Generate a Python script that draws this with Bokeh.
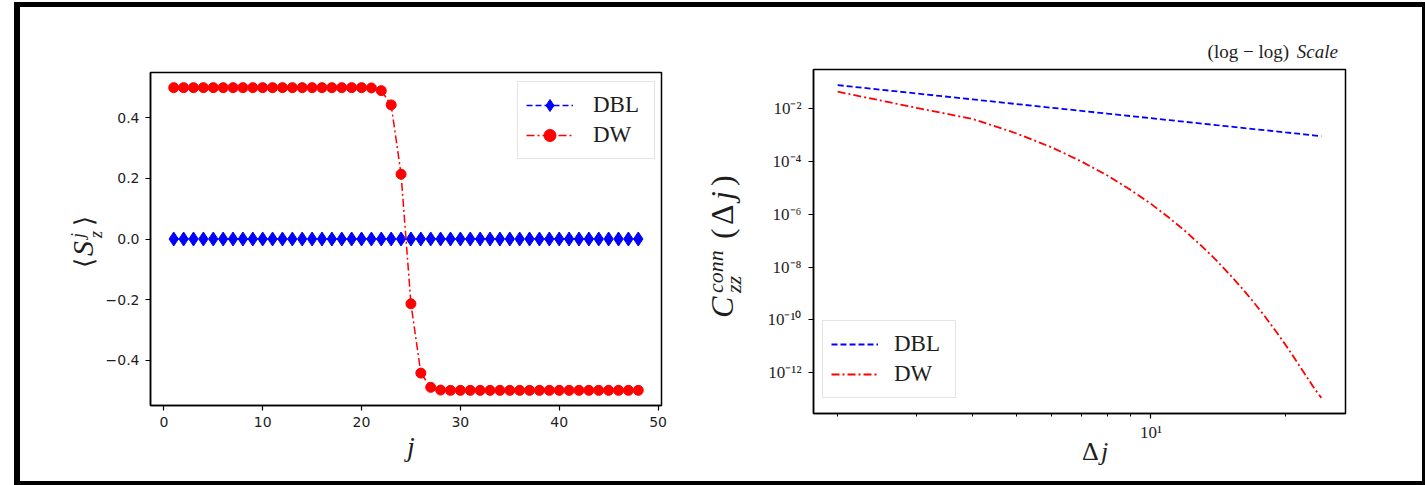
import numpy as np
from bokeh.plotting import figure
from bokeh.models import (Range1d, FixedTicker, CustomJSTickFormatter, Div,
                          Legend, LegendItem)
from bokeh.embed import file_html
from bokeh.resources import INLINE

# ---------------- data: left panel  <S_z^j> vs j ----------------
sites_j = [1, 2, 3, 4, 5, 6, 7, 8, 9, 10, 11, 12, 13, 14, 15, 16,
           17, 18, 19, 20, 21, 22, 23, 24, 25, 26, 27, 28, 29, 30, 31, 32,
           33, 34, 35, 36, 37, 38, 39, 40, 41, 42, 43, 44, 45, 46, 47, 48]
sz_dbl = [0.0, 0.0, 0.0, 0.0, 0.0, 0.0, 0.0, 0.0, 0.0, 0.0, 0.0, 0.0,
          0.0, 0.0, 0.0, 0.0, 0.0, 0.0, 0.0, 0.0, 0.0, 0.0, 0.0, 0.0,
          0.0, 0.0, 0.0, 0.0, 0.0, 0.0, 0.0, 0.0, 0.0, 0.0, 0.0, 0.0,
          0.0, 0.0, 0.0, 0.0, 0.0, 0.0, 0.0, 0.0, 0.0, 0.0, 0.0, 0.0]
sz_dw = [0.5, 0.5, 0.5, 0.5, 0.5, 0.5, 0.5, 0.5, 0.5, 0.5, 0.5, 0.5,
         0.5, 0.5, 0.5, 0.5, 0.5, 0.5, 0.5, 0.5, 0.499, 0.49, 0.443, 0.214,
         -0.214, -0.443, -0.49, -0.499, -0.5, -0.5, -0.5, -0.5, -0.5, -0.5, -0.5, -0.5,
         -0.5, -0.5, -0.5, -0.5, -0.5, -0.5, -0.5, -0.5, -0.5, -0.5, -0.5, -0.5]
left_xticks = [0, 10, 20, 30, 40, 50]
left_yticks = [-0.4, -0.2, 0.0, 0.2, 0.4]

# ---------------- data: right panel  C_zz^conn(Δj), log-log ----------------
delta_j = [2, 3, 4, 5, 6, 7, 8, 9, 10, 11, 12, 13, 14, 15, 16, 17, 18, 19,
           20, 21, 22, 23, 24]
czz_dbl = [7.59e-2, 3.67e-2, 2.19e-2, 1.47e-2, 1.06e-2, 8.05e-3, 6.34e-3,
           5.14e-3, 4.26e-3, 3.59e-3, 3.07e-3, 2.66e-3, 2.33e-3, 2.06e-3,
           1.83e-3, 1.64e-3, 1.49e-3, 1.35e-3, 1.23e-3, 1.13e-3, 1.04e-3,
           9.58e-4, 8.88e-4]
czz_dw = [4.27e-2, 1.05e-2, 3.98e-3, 1.15e-3, 3.39e-4, 9.8e-5, 2.88e-5,
          8.3e-6, 2.45e-6, 7.1e-7, 2.09e-7, 6.0e-8, 1.78e-8, 5.1e-9, 1.51e-9,
          4.4e-10, 1.29e-10, 3.7e-11, 1.10e-11, 3.16e-12, 9.5e-13, 3.0e-13,
          1.12e-13]
right_yticks = [1e-12, 1e-10, 1e-8, 1e-6, 1e-4, 1e-2]
right_xticks = [10]
right_xminor = [2, 3, 4, 5, 6, 7, 8, 9, 20]

series_names = ["DBL", "DW"]
title_parts = ["(log \u2212 log)", "Scale"]

TXT = "#1e1e1e"
SERIF = "Liberation Serif"


def style_axes(p, font, size):
    p.xgrid.visible = False
    p.ygrid.visible = False
    p.outline_line_color = "black"
    p.outline_line_width = 1.5
    p.background_fill_color = "white"
    p.border_fill_color = "white"
    for ax in (p.xaxis[0], p.yaxis[0]):
        ax.axis_line_color = "black"
        ax.axis_line_width = 1.5
        ax.major_tick_in = 0
        ax.major_tick_out = 5
        ax.major_tick_line_color = "black"
        ax.major_tick_line_width = 1.2
        ax.minor_tick_in = 0
        ax.minor_tick_out = 3
        ax.minor_tick_line_color = None
        ax.major_label_text_font = font
        ax.major_label_text_font_size = size
        ax.major_label_text_color = TXT
        ax.major_label_standoff = 6


def legend_for(items, loc, standoff, lwidth):
    return Legend(items=items, location=loc, margin=0, padding=8, spacing=0,
                  glyph_width=47, glyph_height=30, label_height=30,
                  label_width=lwidth, label_standoff=standoff,
                  label_text_font=SERIF, label_text_font_size="23px",
                  label_text_color=TXT, label_text_baseline="middle",
                  border_line_color="#cccccc", border_line_width=1,
                  background_fill_color="white", background_fill_alpha=0.8)


# ---------------- left figure ----------------
jx = np.array(sites_j, dtype=float)
ally = np.array(sz_dbl + sz_dw)
xpad = 0.05 * (jx.max() - jx.min())
ypad = 0.05 * (ally.max() - ally.min())
p1 = figure(width=740, height=485, output_backend="svg", toolbar_location=None,
            x_range=Range1d(jx.min() - xpad, jx.max() + xpad),
            y_range=Range1d(ally.min() - ypad, ally.max() + ypad),
            min_border_left=150, min_border_right=79,
            min_border_top=72, min_border_bottom=80,
            styles={"position": "absolute", "left": "0px", "top": "0px"})
style_axes(p1, "DejaVu Sans", "14px")
p1.xaxis.ticker = FixedTicker(ticks=left_xticks)
p1.yaxis.ticker = FixedTicker(ticks=left_yticks)
p1.yaxis.formatter = CustomJSTickFormatter(
    code="return tick.toFixed(1).replace('-', '\\u2212');")

l_dbl = p1.line(sites_j, sz_dbl, line_color="blue", line_width=1.5, line_dash="6 3")
m_dbl = p1.scatter(sites_j, sz_dbl, marker="diamond", size=14,
                   fill_color="blue", line_color="blue")
l_dw = p1.line(sites_j, sz_dw, line_color="red", line_width=1.5, line_dash="8 3 2 3")
m_dw = p1.scatter(sites_j, sz_dw, marker="circle", size=10,
                  fill_color="red", line_color="red")
p1.add_layout(legend_for([LegendItem(label=series_names[0], renderers=[l_dbl, m_dbl]),
                          LegendItem(label=series_names[1], renderers=[l_dw, m_dw])],
                         (367, 246), 20, 53))

# ---------------- right figure ----------------
dj = np.log10(np.array(delta_j, dtype=float))
cy = np.log10(np.array(czz_dbl + czz_dw))
lxp = 0.05 * (dj.max() - dj.min())
lyp = 0.05 * (cy.max() - cy.min())
p2 = figure(width=685, height=485, output_backend="svg", toolbar_location=None,
            x_axis_type="log", y_axis_type="log",
            x_range=Range1d(10 ** (dj.min() - lxp), 10 ** (dj.max() + lxp)),
            y_range=Range1d(10 ** (cy.min() - lyp), 10 ** (cy.max() + lyp)),
            min_border_left=73, min_border_right=80,
            min_border_top=69, min_border_bottom=72,
            styles={"position": "absolute", "left": "740px", "top": "0px"})
style_axes(p2, SERIF, "17px")
p2.xaxis.minor_tick_line_color = "black"
p2.xaxis.minor_tick_line_width = 1.0
p2.xaxis.ticker = FixedTicker(ticks=right_xticks, minor_ticks=right_xminor)
p2.yaxis.ticker = FixedTicker(ticks=right_yticks)
p2.xaxis.major_label_standoff = 4
p2.yaxis.major_label_standoff = 7
sup_code = """
const sup = {'-':'\\u207b','0':'\\u2070','1':'\\u00b9','2':'\\u00b2','3':'\\u00b3',
             '4':'\\u2074','5':'\\u2075','6':'\\u2076','7':'\\u2077','8':'\\u2078','9':'\\u2079'};
const e = Math.round(Math.log10(tick));
return '10' + String(e).split('').map(c => sup[c]).join('');
"""
p2.xaxis.formatter = CustomJSTickFormatter(code=sup_code)
p2.yaxis.formatter = CustomJSTickFormatter(code=sup_code)

r_dbl = p2.line(delta_j, czz_dbl, line_color="blue", line_width=1.8, line_dash="6 3")
r_dw = p2.line(delta_j, czz_dw, line_color="red", line_width=1.8, line_dash="8 3 2 3")
p2.add_layout(legend_for([LegendItem(label=series_names[0], renderers=[r_dbl]),
                          LegendItem(label=series_names[1], renderers=[r_dw])],
                         (9, 15), 16, 53))

# ---------------- overlay: axis labels with sub/superscripts, title, frame ----------------
def txt(s, x, y, size, italic=False, rot=False, anchor="start"):
    tr = f' transform="rotate(-90 {x} {y})"' if rot else ""
    st = "italic" if italic else "normal"
    css = (f"font-family:'{SERIF}',serif;font-size:{size}px;font-style:{st};"
           f"font-weight:normal;fill:{TXT};text-anchor:{anchor};")
    return f'<text x="{x}" y="{y}"{tr} style="{css}">{s}</text>'


pieces = [
    # left y label  <S_z^j>
    txt("\u27e8", 93, 268, 26, rot=True),
    txt("S", 93, 256, 30, italic=True, rot=True),
    txt("j", 84, 238, 18, italic=True, rot=True),
    txt("z", 102, 238, 18, italic=True, rot=True),
    txt("\u27e9", 93, 226, 26, rot=True),
    # left x label  j
    txt("j", 411, 456, 28, italic=True, anchor="middle"),
    # right y label  C_zz^conn(Δj)
    txt("C", 733, 318, 32, italic=True, rot=True),
    txt("conn", 723, 293, 22, italic=True, rot=True),
    txt("zz", 741, 293, 22, italic=True, rot=True),
    txt("(", 733, 239, 32, rot=True),
    txt("\u0394", 733, 225, 32, rot=True),
    txt("j", 733, 200, 32, italic=True, rot=True),
    txt(")", 733, 186, 32, rot=True),
    # right x label  Δj
    txt("\u0394", 1082, 460, 26),
    txt("j", 1101, 460, 26, italic=True),
    # corner title
    txt(title_parts[0], 1289, 58, 19, anchor="end"),
    txt(title_parts[1], 1338, 58, 19, italic=True, anchor="end"),
]
frame_rects = ('<rect x="14" y="2" width="6" height="483" style="fill:black"/>'
               '<rect x="14" y="2" width="1411" height="5" style="fill:black"/>'
               '<rect x="1422" y="2" width="3" height="483" style="fill:black"/>'
               '<rect x="14" y="481" width="1411" height="4" style="fill:black"/>')
svg = ('<svg xmlns="http://www.w3.org/2000/svg" width="1425" height="485" '
       'style="position:absolute;left:0;top:0;overflow:visible">'
       + frame_rects + "".join(pieces) + "</svg>")
overlay = Div(text=svg, width=1425, height=485, margin=0,
              styles={"position": "absolute", "left": "0px", "top": "0px",
                      "margin": "0px", "padding": "0px",
                      "z-index": "10", "pointer-events": "none"})

open("out.html", "w").write(file_html([p1, p2, overlay], INLINE))
